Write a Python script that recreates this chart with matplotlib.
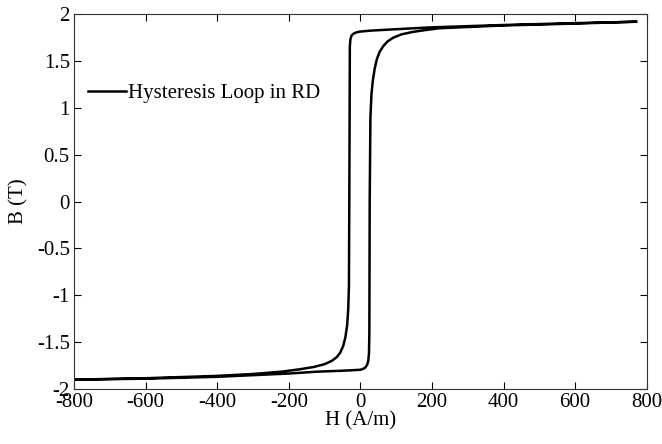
import matplotlib
matplotlib.use('Agg')
import matplotlib.pyplot as plt

# Descending branch (from positive saturation to negative)
h_down = [770, 600, 400, 200, 100, 30, 0, -12, -20, -25, -28, -29.5, -30, -31, -32,
          -34, -37, -42, -48, -56, -66, -80, -100, -130, -170, -220, -300, -400, -600, -800]
b_down = [1.92, 1.905, 1.885, 1.86, 1.84, 1.825, 1.815, 1.805, 1.79, 1.77, 1.73, 1.65,
          1.0, 0.0, -0.9, -1.15, -1.32, -1.45, -1.54, -1.61, -1.66, -1.70, -1.735,
          -1.765, -1.79, -1.815, -1.84, -1.86, -1.885, -1.90]

# Ascending branch (from negative saturation to positive)
h_up = [-800, -600, -400, -200, -120, -50, 0, 8, 14, 19, 22, 24, 25, 26, 28, 31,
        35, 40, 46, 54, 64, 76, 92, 115, 145, 180, 220, 400, 600, 770]
b_up = [-1.90, -1.89, -1.87, -1.835, -1.815, -1.805, -1.795, -1.785, -1.77, -1.74,
        -1.70, -1.62, -1.4, 0.0, 0.9, 1.15, 1.30, 1.42, 1.52, 1.60, 1.66, 1.71, 1.75,
        1.785, 1.81, 1.83, 1.85, 1.88, 1.90, 1.92]

plt.rcParams['font.family'] = ['Liberation Serif', 'DejaVu Serif']
plt.rcParams['axes.unicode_minus'] = False

fig = plt.figure(figsize=(6.62, 4.44), dpi=100)
ax = fig.add_axes([0.1118, 0.1239, 0.8652, 0.8441])

h_loop = h_down + h_up
b_loop = b_down + b_up
ax.plot(h_loop, b_loop, color='black', linewidth=1.8, label='Hysteresis Loop in RD')

ax.set_xlim(-800, 800)
ax.set_ylim(-2, 2)
ax.set_xticks(range(-800, 801, 200))
ax.set_yticks([-2, -1.5, -1, -0.5, 0, 0.5, 1, 1.5, 2])
ax.set_yticklabels(['-2', '-1.5', '-1', '-0.5', '0', '0.5', '1', '1.5', '2'])

ax.tick_params(direction='in', top=True, right=True, length=5, width=0.8,
               labelsize=15, pad=3)
for s in ax.spines.values():
    s.set_linewidth(0.8)
    s.set_color('#333333')

ax.set_xlabel('H (A/m)', fontsize=15, labelpad=-1)
ax.set_ylabel('B (T)', fontsize=15, labelpad=6)

ax.legend(loc='upper left', bbox_to_anchor=(-0.008, 0.865), frameon=False,
          fontsize=15, handlelength=1.8, handletextpad=0.1)

fig.savefig('out.png', dpi=100)
